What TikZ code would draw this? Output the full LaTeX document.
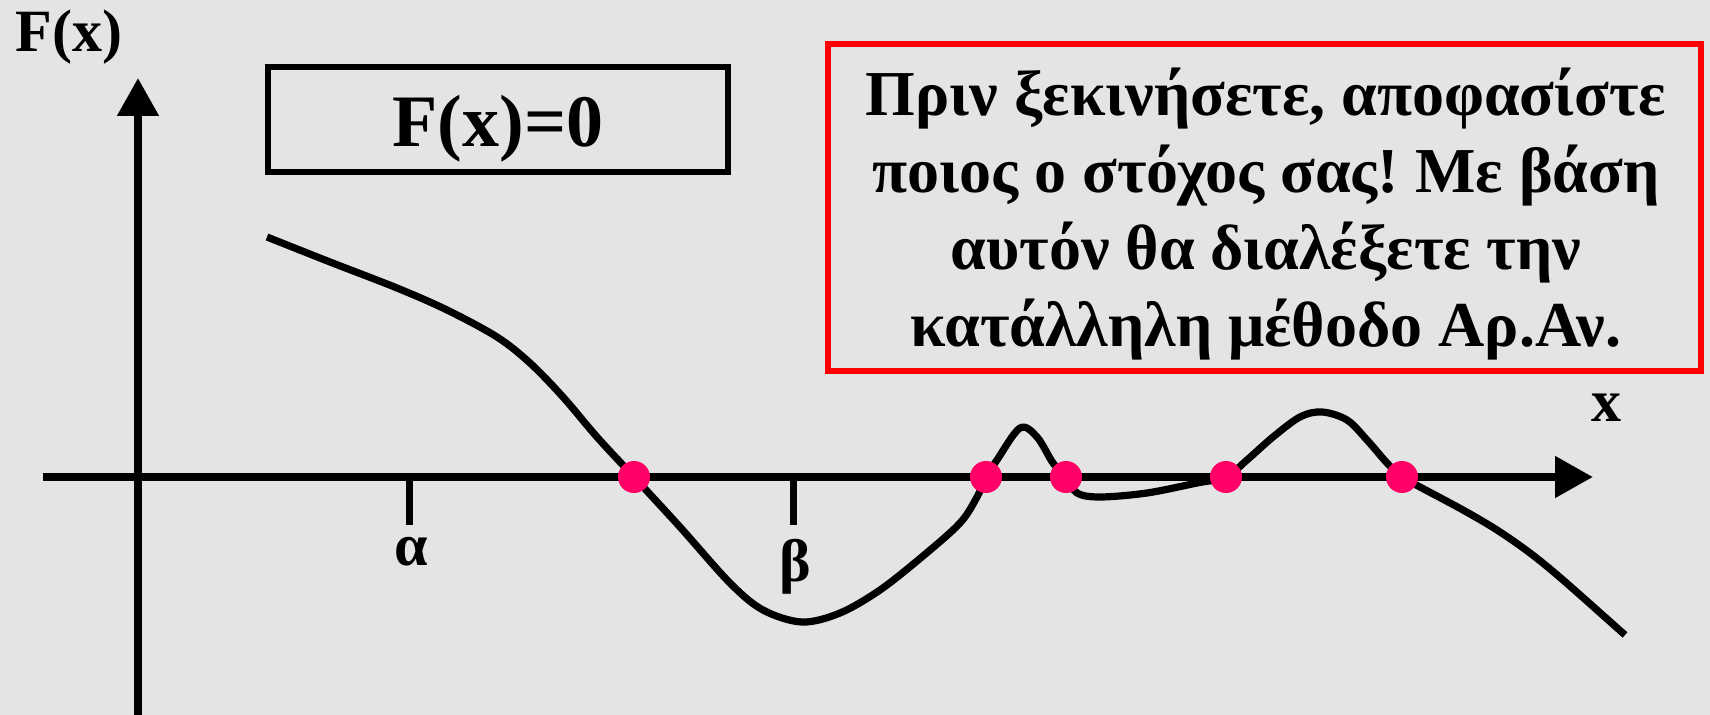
\documentclass[tikz,border=0pt]{standalone}
\usepackage{fontspec}
\setmainfont{Liberation Serif}
\usetikzlibrary{arrows.meta}
\definecolor{bg}{RGB}{228,228,228}
\definecolor{rootpink}{RGB}{255,0,102}
\definecolor{boxred}{RGB}{255,0,0}
\frenchspacing
\begin{document}
\begin{tikzpicture}[x=0.5pt,y=-0.5pt,
  lbl/.style={font=\fontsize{30}{36}\selectfont\bfseries, inner sep=0pt, anchor=base},
  notetext/.style={font=\fontsize{32}{38}\selectfont\bfseries, inner sep=0pt, anchor=base},
  eqtext/.style={font=\fontsize{37}{44}\selectfont\bfseries, inner sep=0pt, anchor=base},
  axisline/.style={line width=4pt, -{Triangle[length=19pt,width=20pt]}},
  tickline/.style={line width=3.5pt},
  curveline/.style={line width=3.6pt, line join=round},
  rootdot/.style={circle, fill=rootpink, inner sep=0pt, minimum size=16pt},
  framebox/.style={draw, line width=3pt, inner sep=0pt}]
\useasboundingbox[fill=bg] (0,0) rectangle (1710,715);
% axes
\coordinate (yb) at (138,715);
\coordinate (yt) at (138,78);
\coordinate (xa) at (43,477);
\coordinate (xb) at (1593,477);
\draw[axisline] (yb) -- (yt);
\draw[axisline] (xa) -- (xb);
% ticks
\coordinate (ta0) at (409.5,477);
\coordinate (ta1) at (409.5,525);
\coordinate (tb0) at (793.5,477);
\coordinate (tb1) at (793.5,525);
\draw[tickline] (ta0) -- (ta1);
\draw[tickline] (tb0) -- (tb1);
% labels
\node[lbl] (fx) at (69,52) {F(x)};
\node[lbl] (xlab) at (1606,422) {x};
\node[lbl] (alab) at (411,566) {α};
\node[lbl] (blab) at (795,582) {β};
% curve
\draw[curveline] plot[smooth, tension=0.55] coordinates {
 (267,237) (330,262) (397,288) (447,310) (497,337) (530,363) (563,397) (597,437)
 (634,477) (680,527) (730,583) (763,610) (802,622) (840,613) (880,590) (923,556)
 (960,523) (977,497) (986,477) (997,460) (1020,428) (1037,437) (1053,463) (1066,477)
 (1077,493) (1100,497) (1147,493) (1197,483) (1226,477) (1247,460) (1273,437) (1300,417)
 (1322,412) (1347,420) (1367,440) (1387,463) (1402,477) (1420,487) (1463,510) (1497,530)
 (1530,553) (1563,580) (1625,635)};
% roots
\node[rootdot] (r1) at (634,477) {};
\node[rootdot] (r2) at (986,477) {};
\node[rootdot] (r3) at (1066,477) {};
\node[rootdot] (r4) at (1226,477) {};
\node[rootdot] (r5) at (1402,477) {};
% equation box
\node[framebox, minimum width=230pt, minimum height=52.5pt] (eqbox) at (498,119.5) {};
\node[eqtext] (eq) at (498,147) {F(x)=0};
% red note box
\node[framebox, draw=boxred, minimum width=436.5pt, minimum height=163.75pt] (note) at (1264.5,207.75) {};
\node[notetext] (n1) at (1266,116) {Πριν ξεκινήσετε, αποφασίστε};
\node[notetext] (n2) at (1266,193) {ποιος ο στόχος σας! Με βάση};
\node[notetext] (n3) at (1266,270) {αυτόν θα διαλέξετε την};
\node[notetext] (n4) at (1266,347) {κατάλληλη μέθοδο Αρ.Αν.};
\end{tikzpicture}
\end{document}
